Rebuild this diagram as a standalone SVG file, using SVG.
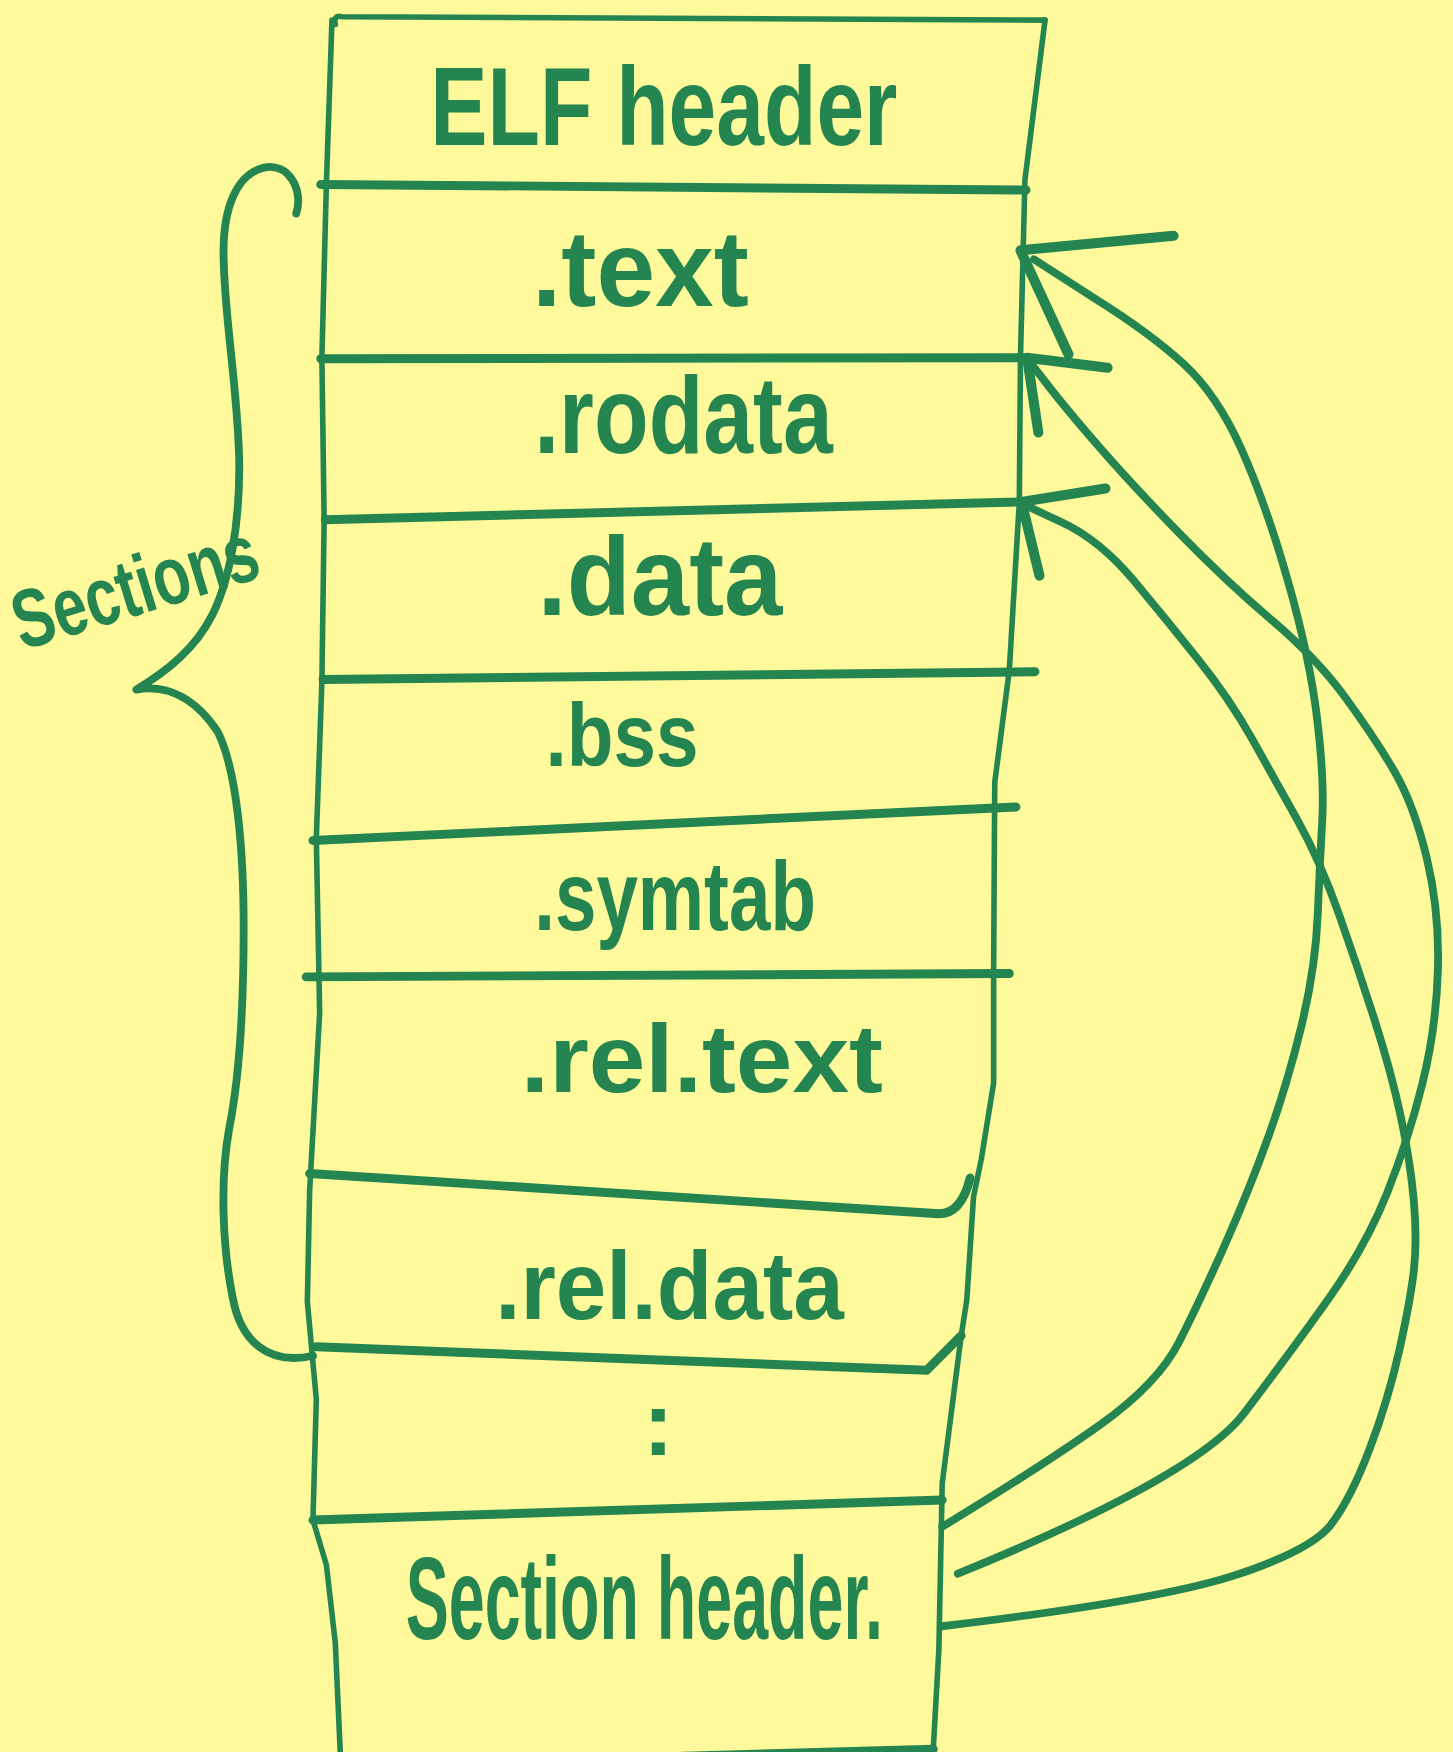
<svg xmlns="http://www.w3.org/2000/svg" width="1453" height="1752" viewBox="0 0 1453 1752">
<style>
.ink{fill:none;stroke:#248550;stroke-linecap:round;stroke-linejoin:round}
.edge{stroke-width:5}
.sep{stroke-width:8}
.conn{stroke-width:7}
.barb{stroke-width:9}
.lbl{font-family:"Liberation Sans","DejaVu Sans",sans-serif;font-weight:bold;fill:#248550}
</style>
<rect x="0" y="0" width="1453" height="1752" fill="#FEF99B"/>
<g transform="scale(1.117692)">
  <g id="outline">
    <path class="ink edge" d="M300,22 Q298,13 306,15 L935,18"/>
    <path class="ink edge" d="M297,18 L292,165 L288,320 L290,465 L288,610 L283,750 L286,906 L277,1066 L275,1165 L283,1252 L280,1360 L292,1400 L300,1470 L305,1580"/>
    <path class="ink edge" d="M935,18 L917,161 L913,320 L912,449 L903,600 L890,700 L889,870 L889,969 L878,1037 L871,1071 L865,1163 L860,1195 L843,1327 L840,1476 L835,1565"/>
    <path class="ink sep" d="M305,1580 L835,1565"/>
  </g>
  <g id="elf-header">
    <path class="ink sep" d="M287,165 L918,170"/>
    <text class="lbl" x="385" y="130" font-size="100" textLength="418" lengthAdjust="spacingAndGlyphs">ELF header</text>
  </g>
  <g id="text">
    <path class="ink sep" d="M287,321 L919,320"/>
    <text class="lbl" x="476" y="274" font-size="96" textLength="194" lengthAdjust="spacingAndGlyphs">.text</text>
  </g>
  <g id="rodata">
    <path class="ink sep" d="M291,465 L914,449"/>
    <text class="lbl" x="478" y="405" font-size="98" textLength="267" lengthAdjust="spacingAndGlyphs">.rodata</text>
  </g>
  <g id="data">
    <path class="ink sep" d="M289,608 L926,601"/>
    <text class="lbl" x="481" y="550" font-size="100" textLength="219" lengthAdjust="spacingAndGlyphs">.data</text>
  </g>
  <g id="bss">
    <path class="ink sep" d="M280,752 L909,722"/>
    <text class="lbl" x="488" y="685" font-size="80" textLength="137" lengthAdjust="spacingAndGlyphs">.bss</text>
  </g>
  <g id="symtab">
    <path class="ink sep" d="M274,874 L903,871"/>
    <text class="lbl" x="478" y="832" font-size="88" textLength="252" lengthAdjust="spacingAndGlyphs">.symtab</text>
  </g>
  <g id="rel-text">
    <path class="ink sep" d="M277,1050 L840,1086 Q860,1086 868,1054"/>
    <text class="lbl" x="466" y="977" font-size="86" textLength="324" lengthAdjust="spacingAndGlyphs">.rel.text</text>
  </g>
  <g id="rel-data">
    <path class="ink sep" d="M283,1205 L829,1226 L860,1195"/>
    <text class="lbl" x="443" y="1180" font-size="86" textLength="312" lengthAdjust="spacingAndGlyphs">.rel.data</text>
  </g>
  <g id="more">
    <path class="ink sep" d="M280,1360 L843,1342"/>
    <text class="lbl" x="589" y="1302" font-size="82" text-anchor="middle">:</text>
  </g>
  <g id="section-header">
    <text class="lbl" x="363" y="1466" font-size="104" textLength="427" lengthAdjust="spacingAndGlyphs">Section header.</text>
  </g>
  <g id="sections-brace">
    <path class="ink conn" d="M265,191 C272,170 258,145 236,150 C212,156 200,185 200,225 C200,280 212,340 214,410 C215,470 205,520 190,550 C175,580 150,600 122,617 C150,612 175,625 195,655 C212,690 218,760 218,830 C218,900 215,960 205,1010 C196,1060 200,1120 208,1160 C215,1200 240,1222 280,1213"/>
    <text class="lbl" x="20" y="582" font-size="74" textLength="226" lengthAdjust="spacingAndGlyphs" transform="rotate(-17 20 582)">Sections</text>
  </g>
  <g id="connectors">
    <path class="ink barb" d="M1050,211 L913,224 L956,317"/>
    <path class="ink barb" d="M991,329 L919,320 L929,387"/>
    <path class="ink barb" d="M989,437 L914,449 L930,515"/>
    <path class="ink conn" d="M925,232 L979.5,267 Q1029,298 1059,325.5 Q1089,353 1111,402.5 Q1133,452 1152.5,520.5 Q1172,589 1178.5,643.5 Q1185,698 1183,734 Q1181,770 1179,818 Q1177,866 1164.5,917.5 Q1152,969 1135,1016.5 Q1118,1064 1096,1113.5 Q1074,1163 1055,1200.5 Q1036,1238 984,1275 Q932,1312 843,1366"/>
    <path class="ink conn" d="M920,322 L937,344 Q954,366 984,400.5 Q1014,435 1056,478 Q1098,521 1138,555 Q1178,589 1204,624.5 Q1230,660 1247.5,690 Q1265,720 1276.5,767.5 Q1288,815 1286.5,867.5 Q1285,920 1272.5,970 Q1260,1020 1241,1067.5 Q1222,1115 1189,1161.5 Q1156,1208 1113,1264.5 Q1070,1321 857,1408"/>
    <path class="ink conn" d="M915,451 L949.5,467 Q984,483 1014,519 Q1044,555 1072,590 Q1100,625 1120.5,661.5 Q1141,698 1161,734 Q1181,770 1198,818 Q1215,866 1230,913 Q1245,960 1253.5,1000 Q1262,1040 1265,1075 Q1268,1110 1265,1136.5 Q1262,1163 1252,1208 Q1242,1253 1225,1297.5 Q1208,1342 1190.5,1364.5 Q1173,1387 1104.5,1409.5 Q1036,1432 843,1455"/>
  </g>
</g>
</svg>
